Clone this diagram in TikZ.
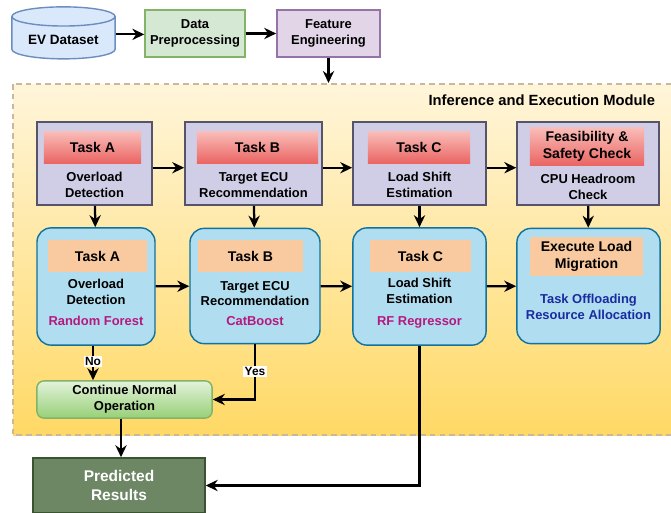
\documentclass[tikz,border=0pt]{standalone}
\usepackage{fontspec}
\setmainfont{Liberation Sans}
\usetikzlibrary{shapes.geometric,arrows.meta}

\definecolor{dbfill}{HTML}{DAE8FC}
\definecolor{dbline}{HTML}{6C8EBF}
\definecolor{grfill}{HTML}{D5E8D4}
\definecolor{grline}{HTML}{82B366}
\definecolor{pufill}{HTML}{E1D5E7}
\definecolor{puline}{HTML}{9673A6}
\definecolor{modtop}{HTML}{FFF5DA}
\definecolor{modbot}{HTML}{FFD966}
\definecolor{modline}{HTML}{C9B99A}
\definecolor{stfill}{HTML}{D0CEE6}
\definecolor{stline}{HTML}{56546A}
\definecolor{redtop}{HTML}{F9BCB8}
\definecolor{redbot}{HTML}{EA6563}
\definecolor{blfill}{HTML}{B1DDF0}
\definecolor{blline}{HTML}{10739E}
\definecolor{orfill}{HTML}{F9C9A0}
\definecolor{cotop}{HTML}{E3F2DB}
\definecolor{cobot}{HTML}{97D077}
\definecolor{prfill}{HTML}{6D8764}
\definecolor{prline}{HTML}{3A5431}
\definecolor{algtext}{HTML}{B5197F}
\definecolor{exetext}{HTML}{1A2BA0}

\begin{document}
\begin{tikzpicture}[x=0.025cm,y=-0.025cm,
	>={Stealth[length=8.5pt,width=8pt]},
	flow/.style={->,line width=1.6pt},
	txt/.style={font=\bfseries\fontsize{9.2}{11.2}\selectfont,align=center},
	tasklbl/.style={font=\bfseries\fontsize{10}{12}\selectfont,align=center},
	stagebox/.style={draw=stline,line width=1pt,fill=stfill},
	redlbl/.style={tasklbl,top color=redtop,bottom color=redbot,inner sep=0pt},
	modelbox/.style={draw=blline,line width=1pt,fill=blfill,rounded corners=10pt},
	orlbl/.style={tasklbl,fill=orfill,inner sep=0pt},
	answer/.style={font=\bfseries\fontsize{8.5}{10}\selectfont,fill=white,inner sep=1pt}]

	\useasboundingbox (0,0) rectangle (671,513);

	% module background
	\shade[top color=modtop,bottom color=modbot] (13,84) rectangle (690,435);
	\draw[modline,line width=0.8pt,dash pattern=on 4pt off 3pt] (13,84) rectangle (690,435);
	\node[font=\bfseries\fontsize{10.5}{12}\selectfont,anchor=east] (modname) at (660,100) {Inference and Execution Module};

	% input chain
	\node[cylinder,shape border rotate=90,aspect=0.24,draw=dbline,fill=dbfill,line width=1pt,
		minimum width=2.58cm,minimum height=1.3cm,font=\bfseries\fontsize{9.6}{11}\selectfont] (evdata) at (63.5,40) {EV Dataset};
	\node[txt,draw=grline,fill=grfill,line width=1pt,minimum width=2.5cm,minimum height=1.18cm] (prep) at (195,33.5) {Data\\Preprocessing};
	\node[txt,draw=puline,fill=pufill,line width=1pt,minimum width=2.58cm,minimum height=1.18cm] (feat) at (328.5,33.5) {Feature\\Engineering};
	\coordinate (modin) at (328.5,83);

	% stage row
	\node[stagebox,minimum width=2.88cm,minimum height=2.08cm] (stA) at (94.5,163.5) {};
	\node[stagebox,minimum width=3.43cm,minimum height=2.08cm] (stB) at (253.5,163.5) {};
	\node[stagebox,minimum width=3.33cm,minimum height=2.08cm] (stC) at (419.5,163.5) {};
	\node[stagebox,minimum width=3.55cm,minimum height=2.08cm] (stD) at (588,163.5) {};

	\node[redlbl,minimum width=2.43cm,minimum height=0.78cm] (redA) at (92.5,147.5) {Task A};
	\node[redlbl,minimum width=3.03cm,minimum height=0.78cm] (redB) at (257.5,147.5) {Task B};
	\node[redlbl,minimum width=2.55cm,minimum height=0.78cm] (redC) at (419,147.5) {Task C};
	\node[redlbl,minimum width=2.85cm,minimum height=0.93cm] (redD) at (587,146.5) {Feasibility \&\\Safety Check};

	\node[txt] (descA) at (94.5,185) {Overload\\Detection};
	\node[txt] (descB) at (253.5,185) {Target ECU\\Recommendation};
	\node[txt] (descC) at (419.5,185) {Load Shift\\Estimation};
	\node[txt] (descD) at (588,187) {CPU Headroom\\Check};

	% model row
	\node[modelbox,minimum width=2.95cm,minimum height=2.93cm] (mdA) at (96,286.5) {};
	\node[modelbox,minimum width=3.25cm,minimum height=2.88cm] (mdB) at (255,286) {};
	\node[modelbox,minimum width=3.33cm,minimum height=2.93cm] (mdC) at (419.5,286.5) {};
	\node[modelbox,minimum width=3.58cm,minimum height=2.88cm] (mdD) at (588.5,286) {};

	\node[orlbl,minimum width=2.48cm,minimum height=0.8cm] (orA) at (97.5,256) {Task A};
	\node[orlbl,minimum width=2.63cm,minimum height=0.8cm] (orB) at (250.5,256) {Task B};
	\node[orlbl,minimum width=2.53cm,minimum height=0.8cm] (orC) at (420.5,256) {Task C};
	\node[orlbl,minimum width=2.83cm,minimum height=0.98cm] (orD) at (586.5,256.5) {Execute Load\\Migration};

	\node[txt] (taskA) at (96,291.5) {Overload\\Detection};
	\node[txt] (taskB) at (255,293.5) {Target ECU\\Recommendation};
	\node[txt] (taskC) at (419.5,291) {Load Shift\\Estimation};
	\node[txt,text=exetext] (taskD) at (588.5,307) {Task Offloading\\Resource Allocation};

	\node[txt,text=algtext] (algA) at (96,321) {Random Forest};
	\node[txt,text=algtext] (algB) at (255,321) {CatBoost};
	\node[txt,text=algtext] (algC) at (419.5,322) {RF Regressor};

	% outcomes
	\node[txt,draw=grline,line width=1pt,top color=cotop,bottom color=cobot,rounded corners=5pt,
		minimum width=4.38cm,minimum height=0.93cm] (cont) at (124.5,399.5) {Continue Normal\\Operation};
	\node[draw=prline,line width=1pt,fill=prfill,text=white,align=center,font=\bfseries\fontsize{11}{13.5}\selectfont,
		minimum width=4.3cm,minimum height=1.38cm] (pred) at (119,485.5) {Predicted\\Results};

	% arrows
	\draw[flow] ([yshift=4pt]evdata.east) -- ([yshift=4pt]evdata.east -| prep.west);
	\draw[flow] (prep) -- (feat);
	\draw[flow] (feat) -- (modin);

	\draw[flow] ([yshift=-3pt]stA.east) -- ([yshift=-3pt]stB.west);
	\draw[flow] ([yshift=-3pt]stB.east) -- ([yshift=-3pt]stC.west);
	\draw[flow] ([yshift=-3pt]stC.east) -- ([yshift=-3pt]stD.west);

	\draw[flow] (stA) -- (mdA);
	\draw[flow] (stB) -- (mdB);
	\draw[flow] (stC) -- (mdC);
	\draw[flow] (stD) -- (mdD);

	\draw[flow] (mdA) -- (mdB);
	\draw[flow] (mdB) -- (mdC);
	\draw[flow] (mdC) -- (mdD);

	\draw[flow] (mdA.south -| 93,0) -- node[answer,pos=0.45] {No} (cont.north -| 93,0);
	\draw[flow] (mdB.south) -- node[answer,pos=0.5] {Yes} (mdB.south |- cont.east) -- (cont.east);
	\draw[flow] (cont.south -| 121,0) -- (pred.north -| 121,0);
	\draw[flow] (mdC.south) -- (mdC.south |- pred.east) -- (pred.east);

\end{tikzpicture}
\end{document}
